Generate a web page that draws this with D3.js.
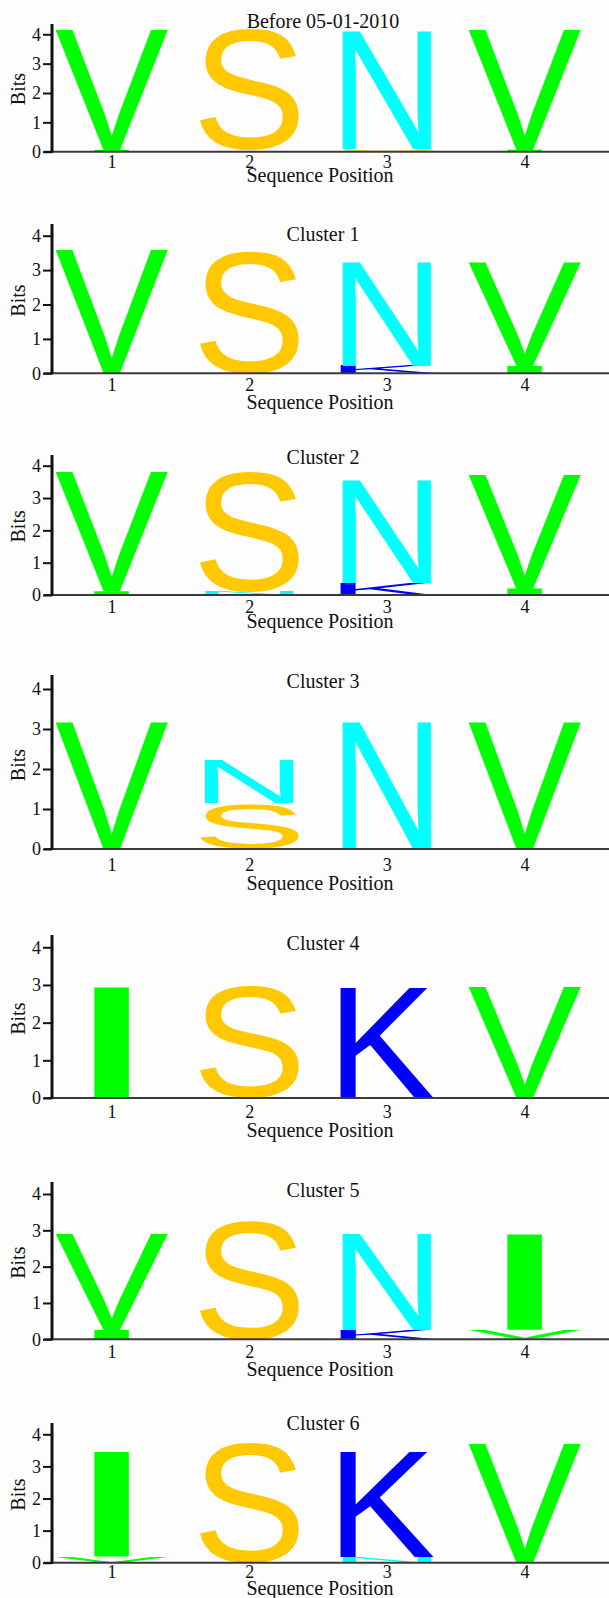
<!DOCTYPE html>
<html>
<head>
<meta charset="utf-8">
<script src="https://cdn.jsdelivr.net/npm/d3@7"></script>
<style>
  body { margin: 0; background: #fdfdfd; }
  svg { display: block; }
</style>
</head>
<body>
<svg id="chart"></svg>
<script>
// ---- data ----
const positions = [1, 2, 3, 4];
const yTicks = [0, 1, 2, 3, 4];
const panelTitles = ['Before 05-01-2010', 'Cluster 1', 'Cluster 2', 'Cluster 3', 'Cluster 4', 'Cluster 5', 'Cluster 6'];

// each stack is listed bottom to top: [residue, bits]
const beforeLogo = [
    [['I', 0.06], ['V', 4.12]],
    [['N', 0.06], ['S', 4.2]],
    [['K', 0.04], ['S', 0.05], ['N', 4.0]],
    [['I', 0.07], ['V', 4.1]]
];
const cluster1Logo = [
    [['V', 3.56]],
    [['S', 3.63]],
    [['K', 0.21], ['N', 3.03]],
    [['I', 0.21], ['V', 3.03]]
];
const cluster2Logo = [
    [['I', 0.12], ['V', 3.7]],
    [['N', 0.1], ['S', 3.77]],
    [['K', 0.36], ['N', 3.17]],
    [['I', 0.2], ['V', 3.51]]
];
const cluster3Logo = [
    [['V', 3.18]],
    [['S', 1.15], ['N', 1.09]],
    [['N', 3.18]],
    [['V', 3.18]]
];
const cluster4Logo = [
    [['I', 2.94]],
    [['S', 3.0]],
    [['K', 2.94]],
    [['V', 2.94]]
];
const cluster5Logo = [
    [['I', 0.26], ['V', 2.63]],
    [['S', 3.33]],
    [['K', 0.26], ['N', 2.63]],
    [['V', 0.26], ['I', 2.63]]
];
const cluster6Logo = [
    [['V', 0.19], ['I', 3.27]],
    [['S', 3.79]],
    [['N', 0.18], ['K', 3.28]],
    [['V', 3.72]]
];
const logos = [beforeLogo, cluster1Logo, cluster2Logo, cluster3Logo, cluster4Logo, cluster5Logo, cluster6Logo];

// ---- layout ----
const width = 609, height = 1598;
const axisX = 52;
const panelY0 = [151.7, 373.3, 595, 849, 1098, 1339.3, 1562.7];   // pixel of 0 bits
const panelY4 = [34.3, 235.7, 465.7, 689, 947.3, 1194, 1434.3];   // pixel of 4 bits
const axisTop = [24, 224, 455, 675, 935, 1182, 1423];
const titleY = [28, 240.7, 464, 688, 950, 1196.7, 1430];
const tickLabelY = [168, 391, 613.3, 870.7, 1118, 1358.3, 1578];
const xLabelY = [181.7, 409, 628, 890, 1137, 1376, 1595];

const letterColor = {V: '#00ff00', I: '#00ff00', S: '#ffc800', N: '#00ffff', K: '#0000ff'};
const letterWidth = {V: 114, I: 37, S: 101, N: 90, K: 94};
const logoFont = '"Liberation Sans", Arial, sans-serif';
const serif = '"Liberation Serif", "Times New Roman", serif';

const svg = d3.select('#chart')
    .attr('width', width)
    .attr('height', height);

svg.append('rect')
    .attr('width', width)
    .attr('height', height)
    .attr('fill', '#fdfdfd');

const x = d3.scaleLinear().domain([1, 4]).range([112, 525]);

// ink box of each glyph, so letters can be stretched to fill their slot
const ctx = document.createElement('canvas').getContext('2d');
function glyphBox(ch){
    ctx.font = '100px ' + logoFont;
    const m = ctx.measureText(ch);
    return {
        left: m.actualBoundingBoxLeft,
        right: m.actualBoundingBoxRight,
        ascent: m.actualBoundingBoxAscent,
        descent: m.actualBoundingBoxDescent
    };
}

function drawPanel(i){
    const g = svg.append('g').attr('class', 'panel');
    const y = d3.scaleLinear().domain([0, 4]).range([panelY0[i], panelY4[i]]);

    // stacked letters
    logos[i].forEach((stack, k) => {
        let base = 0;
        stack.forEach(([ch, bits]) => {
            const yBottom = y(base);
            const yTop = y(base + bits);
            base += bits;
            const b = glyphBox(ch);
            const sx = letterWidth[ch] / (b.left + b.right);
            const sy = (yBottom - yTop) / (b.ascent + b.descent);
            const cx = x(positions[k]) - sx * (b.right - b.left) / 2;
            g.append('text')
                .attr('class', 'residue')
                .attr('transform', `translate(${cx},${yBottom - sy * b.descent}) scale(${sx},${sy})`)
                .style('font-family', logoFont)
                .style('font-size', '100px')
                .attr('fill', letterColor[ch])
                .text(ch);
        });
    });

    // x axis line
    g.append('line')
        .attr('x1', axisX - 8).attr('x2', width)
        .attr('y1', panelY0[i]).attr('y2', panelY0[i])
        .attr('stroke', '#3a3a3a')
        .attr('stroke-width', 2);

    // y axis
    const yAxis = g.append('g')
        .attr('transform', `translate(${axisX},0)`)
        .call(d3.axisLeft(y).tickValues(yTicks).tickSize(9).tickPadding(2).tickFormat(d3.format('d')));
    yAxis.select('.domain').remove();
    yAxis.selectAll('line').attr('stroke', '#111').attr('stroke-width', 2);
    yAxis.selectAll('text')
        .style('font-family', serif)
        .style('font-size', '18px')
        .attr('fill', '#111');

    g.append('line')
        .attr('x1', axisX).attr('x2', axisX)
        .attr('y1', axisTop[i]).attr('y2', panelY0[i] + 1)
        .attr('stroke', '#111')
        .attr('stroke-width', 3);

    // x tick labels
    g.selectAll('.xtick')
        .data(positions)
        .enter()
        .append('text')
        .attr('class', 'xtick')
        .attr('x', d => x(d))
        .attr('y', tickLabelY[i])
        .attr('text-anchor', 'middle')
        .style('font-family', serif)
        .style('font-size', '18px')
        .attr('fill', '#111')
        .text(d => d);

    g.append('text')
        .attr('x', 320)
        .attr('y', xLabelY[i])
        .attr('text-anchor', 'middle')
        .style('font-family', serif)
        .style('font-size', '20px')
        .attr('fill', '#111')
        .text('Sequence Position');

    g.append('text')
        .attr('transform', `translate(25,${(panelY0[i] + panelY4[i]) / 2 - 4}) rotate(-90)`)
        .attr('text-anchor', 'middle')
        .style('font-family', serif)
        .style('font-size', '20px')
        .attr('fill', '#111')
        .text('Bits');

    g.append('text')
        .attr('x', 323)
        .attr('y', titleY[i])
        .attr('text-anchor', 'middle')
        .style('font-family', serif)
        .style('font-size', '20px')
        .attr('fill', '#111')
        .text(panelTitles[i]);
}

document.fonts.load('100px "Liberation Sans"').then(() => {
    logos.forEach((d, i) => drawPanel(i));
});
</script>
</body>
</html>
